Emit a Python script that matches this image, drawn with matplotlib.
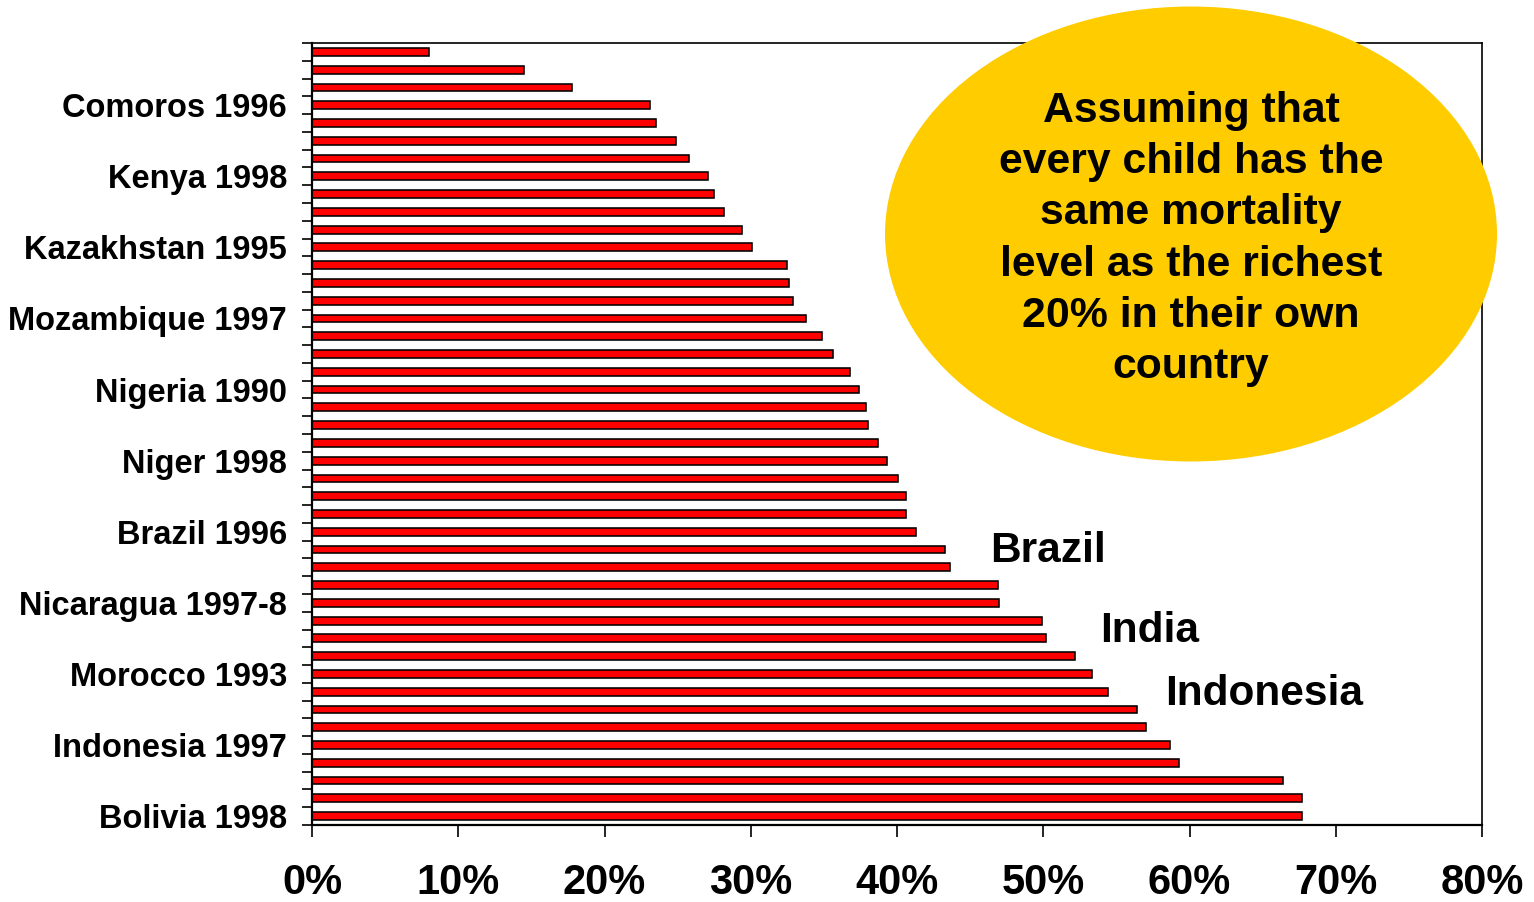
import matplotlib
matplotlib.use("Agg")
import matplotlib.pyplot as plt
from matplotlib.patches import Ellipse

plt.rcParams['font.family'] = ['Liberation Sans', 'DejaVu Sans']
plt.rcParams['font.weight'] = 'bold'

# Share of child deaths avoidable (%), listed from the bottom bar upwards
avoidable_pct = [67.7, 67.7, 66.4, 59.3, 58.7, 57.0, 56.4, 54.4, 53.3, 52.2,
                 50.2, 49.9, 47.0, 46.9, 43.6, 43.3, 41.3, 40.6, 40.6, 40.1,
                 39.3, 38.7, 38.0, 37.9, 37.4, 36.8, 35.6, 34.9, 33.8, 32.9,
                 32.6, 32.5, 30.1, 29.4, 28.2, 27.5, 27.1, 25.8, 24.9, 23.5,
                 23.1, 17.8, 14.5, 8.0]

# Only every fourth survey carries a label on the category axis
survey_labels = ['Bolivia 1998', '', '', '',
                 'Indonesia 1997', '', '', '',
                 'Morocco 1993', '', '', '',
                 'Nicaragua 1997-8', '', '', '',
                 'Brazil 1996', '', '', '',
                 'Niger 1998', '', '', '',
                 'Nigeria 1990', '', '', '',
                 'Mozambique 1997', '', '', '',
                 'Kazakhstan 1995', '', '', '',
                 'Kenya 1998', '', '', '',
                 'Comoros 1996', '', '', '']

x_ticks = [0, 10, 20, 30, 40, 50, 60, 70, 80]
x_tick_labels = ['0%', '10%', '20%', '30%', '40%', '50%', '60%', '70%', '80%']

callouts = [('Brazil', 46.4, 14.28), ('India', 53.9, 9.78), ('Indonesia', 58.3, 6.24)]

note = ("Assuming that\nevery child has the\nsame mortality\n"
        "level as the richest\n20% in their own\ncountry")

W, H = 1534, 902
fig = plt.figure(figsize=(W / 100, H / 100), dpi=100)
ax = fig.add_axes([312 / W, 1 - 825 / H, (1482 - 312) / W, (825 - 43) / H])

positions = list(range(len(avoidable_pct)))
ax.barh(positions, avoidable_pct, height=0.44, color='#FF0000',
        edgecolor='black', linewidth=1.15, zorder=2)

ax.set_xlim(0, 80)
ax.set_ylim(-0.5, len(avoidable_pct) - 0.5)

# category boundaries get the tick marks, category centres get the labels
ax.set_yticks([p - 0.5 for p in positions] + [len(positions) - 0.5])
ax.set_yticklabels([])
ax.set_yticks(positions, minor=True)
ax.set_yticklabels(survey_labels, minor=True, fontsize=23.5, fontweight='bold')
ax.tick_params(axis='y', which='major', length=7.5, width=1.2, direction='out')
ax.tick_params(axis='y', which='minor', length=0, pad=18)

ax.set_xticks(x_ticks)
ax.set_xticklabels(x_tick_labels, fontsize=30, fontweight='bold')
ax.tick_params(axis='x', length=8.5, width=1.2, direction='out', pad=19)

for side in ['left', 'bottom']:
    ax.spines[side].set_linewidth(1.6)
for side in ['top', 'right']:
    ax.spines[side].set_linewidth(1.2)

for name, xv, yv in callouts:
    ax.text(xv, yv, name, fontsize=30.5, fontweight='bold', ha='left',
            va='baseline', zorder=3)

ell = Ellipse((1191 / W, 1 - 234 / H), 612 / W, 455 / H,
              transform=fig.transFigure, facecolor='#FFCC00',
              edgecolor='none', zorder=1)
fig.patches.append(ell)
fig.text(1191 / W, 1 - 239 / H, note, fontsize=30.8, fontweight='bold',
         ha='center', va='center', linespacing=1.36, zorder=3)

fig.savefig('out.png', dpi=100)
